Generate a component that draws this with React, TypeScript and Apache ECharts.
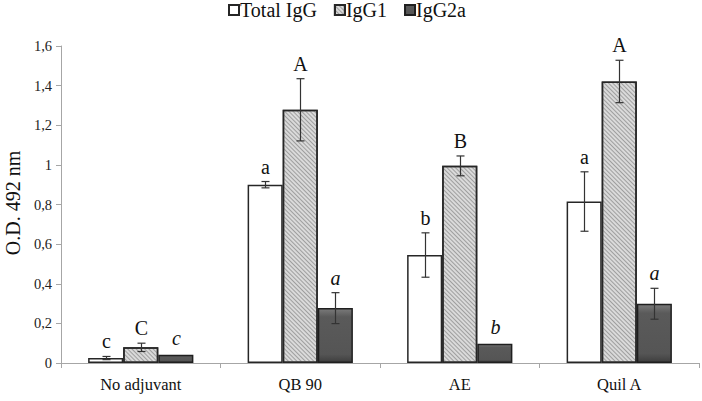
import React, { useEffect, useRef } from "react";
import * as echarts from "echarts";

const categories = ["No adjuvant", "QB 90", "AE", "Quil A"];
const seriesNames = ["Total IgG", "IgG1", "IgG2a"];
const totalIgG = [0.025, 0.9, 0.545, 0.815];
const totalIgGErr = [0.008, 0.016, 0.112, 0.15];
const igG1 = [0.079, 1.278, 0.995, 1.421];
const igG1Err = [0.021, 0.157, 0.05, 0.107];
const igG2a = [0.042, 0.277, 0.097, 0.299];
const igG2aErr = [0.0, 0.078, 0.0, 0.078];
const lettersTotal = ["c", "a", "b", "a"];
const lettersIgG1 = ["C", "A", "B", "A"];
const lettersIgG2a = ["c", "a", "b", "a"];
const yTicks = [0, 0.2, 0.4, 0.6, 0.8, 1, 1.2, 1.4, 1.6];

const FONT = "Liberation Serif";

export default function App() {
  const ref = useRef<HTMLDivElement>(null);
  useEffect(() => {
    if (!ref.current) return;
    const chart = echarts.init(ref.current, null, { renderer: "svg" });
    const values = [totalIgG, igG1, igG2a];
    const errs = [totalIgGErr, igG1Err, igG2aErr];
    const letters = [lettersTotal, lettersIgG1, lettersIgG2a];
    const errData: any[] = [];
    const errLetters: string[] = [];
    for (let s = 0; s < 3; s++) {
      for (let i = 0; i < categories.length; i++) {
        errData.push([i, s, values[s][i], errs[s][i]]);
        errLetters.push(letters[s][i]);
      }
    }
    const gapFrac = 0.34;
    const barStyles = [
      { color: "#ffffff", borderColor: "#262626", borderWidth: 1.5 },
      {
        color: "#dadada",
        borderColor: "#262626",
        borderWidth: 1.5,
        decal: {
          symbol: "rect",
          symbolSize: 1,
          dashArrayX: [1, 0],
          dashArrayY: [1, 2],
          rotation: Math.PI / 4,
          color: "rgba(100,100,100,0.5)",
        },
      },
      {
        color: {
          type: "linear",
          x: 0,
          y: 0,
          x2: 0,
          y2: 1,
          colorStops: [
            { offset: 0, color: "#7a7a7a" },
            { offset: 0.15, color: "#5a5a5a" },
            { offset: 0.85, color: "#555555" },
            { offset: 1, color: "#3e3e3e" },
          ],
        },
        borderColor: "#1f1f1f",
        borderWidth: 1.5,
      },
    ];
    const option: any = {
      animation: false,
      legend: {
        data: seriesNames,
        left: 228,
        top: 0,
        padding: 0,
        itemWidth: 10,
        itemHeight: 10,
        itemGap: 17,
        icon: "rect",
        textStyle: { fontFamily: FONT, fontSize: 20, color: "#111", padding: [0, 0, 0, -4] },
      },
      grid: { left: 61, right: 3, top: 46, bottom: 38, containLabel: false },
      xAxis: {
        type: "category",
        data: categories,
        axisLine: { lineStyle: { color: "#a6a6a6", width: 1 } },
        axisTick: { show: true, length: 5, lineStyle: { color: "#a6a6a6" } },
        axisLabel: { fontFamily: FONT, fontSize: 16.5, color: "#111", margin: 13 },
      },
      yAxis: {
        type: "value",
        min: 0,
        max: 1.6,
        interval: 0.2,
        splitLine: { show: false },
        axisLine: { show: true, lineStyle: { color: "#a6a6a6", width: 1 } },
        axisTick: { show: true, length: 5, lineStyle: { color: "#a6a6a6" } },
        axisLabel: {
          fontFamily: FONT,
          fontSize: 14.5,
          color: "#222",
          margin: 9,
          formatter: (v: number) => {
            const t = yTicks.find((x) => Math.abs(x - v) < 1e-6);
            const n = t !== undefined ? t : v;
            return String(Number(n.toFixed(1))).replace(".", ",");
          },
        },
      },
      graphic: [
        {
          type: "text",
          x: 13,
          y: 203,
          rotation: Math.PI / 2,
          style: {
            text: "O.D. 492 nm",
            fontFamily: FONT,
            fontSize: 20,
            fill: "#111",
            textAlign: "center",
            textVerticalAlign: "middle",
          },
        },
      ],
      series: [
        ...seriesNames.map((name, s) => ({
          type: "bar",
          name,
          data: values[s],
          barGap: "0%",
          barCategoryGap: gapFrac * 100 + "%",
          itemStyle: barStyles[s],
          emphasis: { disabled: true },
        })),
        {
          type: "custom",
          name: "errors",
          data: errData,
          encode: { x: 0, y: 2 },
          z: 10,
          silent: true,
          renderItem: (params: any, api: any) => {
            const cat = api.value(0);
            const s = api.value(1);
            const v = api.value(2);
            const e = api.value(3);
            const band = api.size([1, 0])[0];
            const barW = (band * (1 - gapFrac)) / 3;
            const c = api.coord([cat, v]);
            const x = Math.round(c[0] + (s - 1) * barW) + 0.5;
            const yTop = api.coord([cat, v + e])[1];
            const yBot = api.coord([cat, v - e])[1];
            const cap = 4;
            const ls = { stroke: "#333", lineWidth: 1.2 };
            const children: any[] = [];
            if (e > 0) {
              children.push(
                { type: "line", shape: { x1: x, y1: yTop, x2: x, y2: yBot }, style: ls },
                { type: "line", shape: { x1: x - cap, y1: yTop, x2: x + cap, y2: yTop }, style: ls },
                { type: "line", shape: { x1: x - cap, y1: yBot, x2: x + cap, y2: yBot }, style: ls }
              );
            }
            children.push({
              type: "text",
              x: x,
              y: yTop - (e > 0 ? 5 : 7),
              style: {
                text: errLetters[params.dataIndex],
                fontFamily: FONT,
                fontSize: 20,
                fontStyle: s === 2 ? "italic" : "normal",
                fill: "#111",
                textAlign: "center",
                textVerticalAlign: "bottom",
              },
            });
            return { type: "group", children };
          },
        },
      ],
    };
    chart.setOption(option);
    return () => chart.dispose();
  }, []);
  return (
    <div
      ref={ref}
      style={{ position: "fixed", left: 0, top: 0, width: 702, height: 401, background: "#fff" }}
    />
  );
}
